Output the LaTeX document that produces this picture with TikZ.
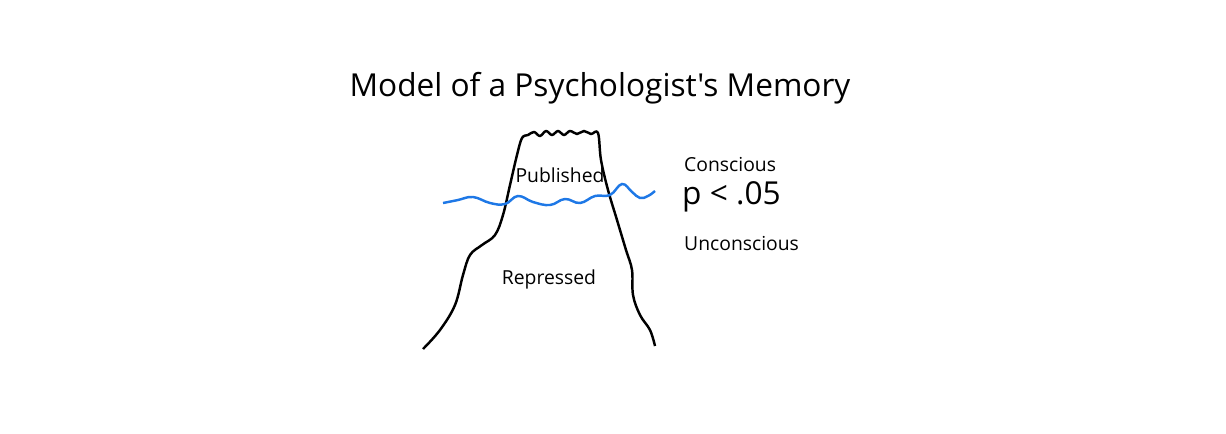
\documentclass[tikz,border=0pt]{standalone}
\usepackage{fontspec}
\setmainfont{Open Sans}[Ligatures=TeXOff]
\usepackage{xcolor}
\definecolor{water}{RGB}{30,120,230}
\begin{document}
\begin{tikzpicture}[x=0.02cm,y=-0.02cm]
        \useasboundingbox (0,0) rectangle (1226,433);
        % iceberg
        \draw[line width=1.4pt, line join=round] plot[smooth, tension=0.6] coordinates {
          (423,349) (440,330) (455,305) (463,275) (470,255) (482,245) (495,235)
          (503,215) (510,185) (517,155) (522,138) (528,135) (534,132) (540,136)
          (546,131) (552,135) (558,131) (564,135) (570,131) (577,134) (584,131)
          (591,134) (598,133) (601,160) (608,190) (617,220) (626,250) (632,270)
          (633,295) (640,315) (650,330) (655,346)};
        % water line
        \draw[water, line width=1.4pt] plot[smooth, tension=0.7] coordinates {
          (443,203) (458,200) (473,197) (490,203) (505,204) (518,196) (533,202)
          (550,205) (565,199) (580,203) (595,196) (610,195) (622,184) (632,192)
          (640,198) (648,196) (655,191)};
        \node (title) at (600,88) {\fontsize{18pt}{21pt}\selectfont Model of a Psychologist's Memory};
        \node (pub) at (560,175) {\fontsize{11pt}{13pt}\selectfont Published};
        \node (rep) at (549,279) {\fontsize{11pt}{13pt}\selectfont Repressed};
        \node[anchor=west] (con) at (678,164) {\fontsize{11pt}{13pt}\selectfont Conscious};
        \node[anchor=west] (pval) at (676,197) {\fontsize{18pt}{20pt}\selectfont p < .05};
        \node[anchor=west] (uncon) at (678,243) {\fontsize{11pt}{13pt}\selectfont Unconscious};
    \end{tikzpicture}
\end{document}
